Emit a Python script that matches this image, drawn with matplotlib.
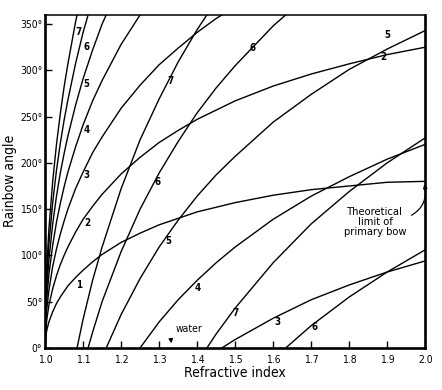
import sys
import matplotlib
matplotlib.use("Agg")
import matplotlib.pyplot as plt

INDEX = [1.0, 1.002, 1.005, 1.01, 1.02, 1.03, 1.04, 1.05, 1.06, 1.08, 1.1, 1.125,
         1.15, 1.2, 1.25, 1.3, 1.35, 1.4, 1.45, 1.5, 1.6, 1.7, 1.8, 1.9, 2.0]

# rainbow angle (deg) for 1..7 internal reflections, before folding past 360
ANGLE_1 = [0, 13, 20, 28, 39, 48, 55, 61, 67, 76, 84, 93, 101, 114, 124, 133, 140,
           147, 152, 157, 165, 171, 175, 179, 180]
ANGLE_2 = [0, 20, 32, 46, 64, 78, 90, 100, 109, 125, 139, 153, 166, 188, 206, 222,
           235, 247, 257, 267, 283, 296, 307, 317, 325]
ANGLE_3 = [0, 28, 44, 62, 88, 107, 123, 137, 150, 172, 190, 211, 228, 259, 284, 306,
           324, 341, 356, 369, 392, 412, 428, 442, 454]
ANGLE_4 = [0, 35, 56, 79, 111, 136, 156, 174, 190, 217, 241, 267, 289, 328, 360, 388,
           412, 433, 452, 469, 499, 524, 545, 564, 580]
ANGLE_5 = [0, 43, 68, 95, 134, 164, 189, 210, 229, 262, 291, 322, 350, 396, 435, 469,
           498, 524, 547, 567, 604, 634, 661, 683, 703]
ANGLE_6 = [0, 50, 79, 112, 157, 192, 221, 246, 268, 307, 341, 377, 410, 464, 510, 549,
           583, 614, 641, 665, 708, 744, 775, 802, 826]
ANGLE_7 = [0, 57, 91, 128, 180, 220, 253, 282, 307, 352, 391, 433, 469, 532, 585, 629,
           669, 704, 735, 763, 812, 854, 889, 920, 947]

# curve numbers written on the chart: (text, index, angle)
LABELS = [("7", 1.087, 341), ("6", 1.108, 325), ("5", 1.108, 285), ("4", 1.11, 236),
          ("3", 1.108, 187), ("2", 1.11, 135), ("1", 1.089, 68), ("7", 1.329, 288),
          ("6", 1.297, 179), ("5", 1.324, 115), ("4", 1.40, 65), ("6", 1.547, 324),
          ("5", 1.90, 338), ("2", 1.889, 314), ("7", 1.50, 38), ("3", 1.61, 28),
          ("6", 1.708, 23)]

X_TICKS = [1.0, 1.1, 1.2, 1.3, 1.4, 1.5, 1.6, 1.7, 1.8, 1.9, 2.0]
Y_TICKS = [0, 50, 100, 150, 200, 250, 300, 350]


def main(args):
    plt.rcParams["font.family"] = ["DejaVu Sans"]
    plt.rcParams["font.stretch"] = "condensed"
    fig = plt.figure(figsize=(4.42, 3.90), dpi=100)
    ax = fig.add_axes([0.102, 0.108, 0.860, 0.854])

    # each curve wraps round past 360, so draw it again shifted down
    for angles in [ANGLE_1, ANGLE_2, ANGLE_3, ANGLE_4, ANGLE_5, ANGLE_6, ANGLE_7]:
        for turn in range(3):
            ax.plot(INDEX, [a - 360 * turn for a in angles], color="black", lw=1.0)

    for text, x, y in LABELS:
        ax.text(x, y, text, fontsize=7, fontweight="bold", ha="center", va="center")

    ax.annotate("water", xy=(1.334, 2), xytext=(1.378, 20), fontsize=7.5,
                ha="center", va="center",
                arrowprops=dict(arrowstyle="-|>", color="black", lw=0.9,
                                mutation_scale=6, relpos=(0.05, 0.1),
                                connectionstyle="arc3,rad=0.4"))
    ax.annotate("Theoretical\nlimit of\nprimary bow", xy=(1.996, 180), xytext=(1.868, 136),
                fontsize=8, ha="center", va="center", linespacing=0.95,
                arrowprops=dict(arrowstyle="-|>", color="black", lw=0.9,
                                mutation_scale=6, relpos=(0.97, 0.62),
                                connectionstyle="arc3,rad=0.45"))

    ax.set_xlim(1.0, 2.0)
    ax.set_ylim(0, 360)
    ax.set_xticks(X_TICKS)
    ax.set_xticklabels([f"{t:.1f}" for t in X_TICKS])
    ax.set_yticks(Y_TICKS)
    ax.set_yticklabels([f"{t}°" for t in Y_TICKS])
    ax.tick_params(direction="in", length=5, width=1.0, labelsize=7.5)
    ax.tick_params(axis="x", pad=5)
    ax.tick_params(axis="y", pad=2)
    for side in ["left", "bottom", "right"]:
        ax.spines[side].set_linewidth(1.9)
    ax.spines["top"].set_linewidth(1.1)

    ax.set_xlabel("Refractive index", fontsize=10, labelpad=1)
    ax.set_ylabel("Rainbow angle", fontsize=10, labelpad=2)

    fig.savefig("out.png", dpi=100)
    return 0


if __name__ == '__main__':
    sys.exit(main(sys.argv[1:]))
